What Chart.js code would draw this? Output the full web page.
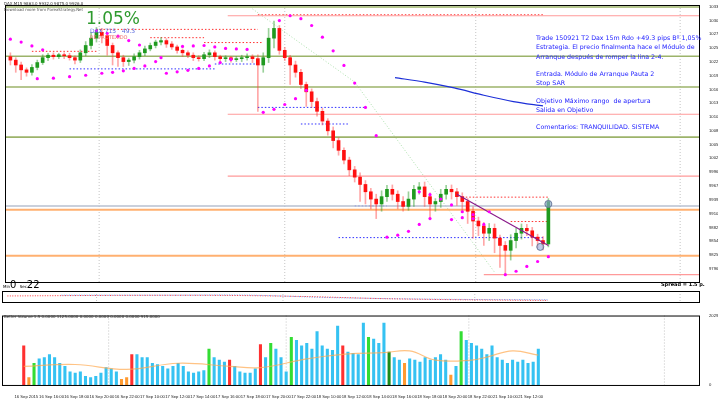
<!DOCTYPE html>
<html><head><meta charset="utf-8">
<script src="https://cdn.jsdelivr.net/npm/chart.js@4"></script>
<style>
body{margin:0;width:718px;height:400px;background:#fff;overflow:hidden;font-family:"DejaVu Sans",sans-serif;position:relative}
canvas{position:absolute;left:0}
.t{position:absolute;white-space:nowrap}
.note{color:#1a1aff;font-size:6.3px;left:536px;line-height:9.4px}
</style></head><body>
<canvas id="m" style="top:0px" width="718" height="290"></canvas>
<canvas id="ind" style="top:290px" width="718" height="21"></canvas>
<canvas id="vol" style="top:311px" width="718" height="89"></canvas>
<div class="t" style="left:4px;top:1px;font-size:4px;color:#333">DAX,M15 9863.0 9932.0 9875.0 9926.0</div>
<div class="t" style="left:4px;top:7px;font-size:4px;color:#555">Download more from ForexStrategy.Net</div>
<div class="t" style="left:86px;top:8px;font-size:17px;color:#2e9a2e">1.05%</div>
<div class="t" style="left:90px;top:27px;font-size:6px;color:#5a6adf">DAX 715 &nbsp; 49.3</div>
<div class="t" style="left:90px;top:34px;font-size:5px;color:#f07070">RE PROTEXIDO</div>
<div class="t note" style="top:33px">Trade 150921 T2 Dax 15m Rdo +49.3 pips Bº 1,05%<br>Estrategia. El precio finalmenta hace el Módulo de<br>Arranque después de romper la lina 2-4.</div>
<div class="t note" style="top:69px">Entrada. Módulo de Arranque Pauta 2<br>Stop SAR</div>
<div class="t note" style="top:96px">Objetivo Máximo rango &nbsp;de apertura<br>Salida en Objetivo</div>
<div class="t note" style="top:122px">Comentarios: TRANQUILIDAD. SISTEMA</div>
<div class="t" style="left:3px;top:279px;font-size:10px;color:#000"><span style="font-size:4px">Min</span>0 <span style="font-size:4px">Sec</span>22</div>
<div class="t" style="left:661px;top:281px;font-size:5px;font-weight:bold;color:#000">Spread = 1.5 p.</div>
<div class="t" style="left:4px;top:314px;font-size:4px;color:#333">Better Volume 1.5 0.0000 1125.0000 0.0000 0.0000 0.0000 0.0000 915.0000</div>
<script>
const closes=[10225,10215,10205,10200,10210,10220,10230,10235,10232,10236,10234,10230,10225,10240,10255,10270,10282,10275,10255,10240,10230,10222,10225,10232,10240,10248,10255,10262,10265,10258,10252,10245,10240,10235,10230,10228,10236,10240,10232,10228,10230,10226,10228,10230,10232,10228,10215,10230,10270,10290,10245,10230,10215,10200,10175,10160,10140,10120,10100,10080,10060,10040,10020,10000,9985,9970,9955,9940,9930,9945,9960,9950,9935,9925,9940,9960,9965,9945,9930,9935,9950,9960,9955,9945,9935,9915,9895,9885,9870,9880,9860,9845,9835,9855,9870,9880,9875,9862,9855,9848,9935];
const firstOpen=10232;
const wickUp=[8,5,6,4,6,5,6,4,5,3,4,5,4,6,8,12,10,8,6,5,4,5,4,6,5,6,5,4,6,4,5,4,3,4,5,4,5,6,4,3,4,3,4,5,6,4,8,10,20,15,6,6,5,8,6,5,6,7,6,5,8,6,5,6,7,9,8,7,10,12,8,9,7,10,15,8,9,10,8,6,10,8,9,7,8,6,9,8,7,10,9,6,8,12,10,9,8,7,6,8,6];
const wickDn=[10,15,20,8,6,5,4,6,5,4,6,5,8,5,6,7,8,15,20,25,18,10,8,6,5,6,4,5,6,7,5,6,8,5,6,5,4,6,7,5,6,5,4,6,5,8,95,15,10,20,8,6,40,10,8,30,12,10,8,9,15,10,8,12,10,35,25,20,30,15,10,12,15,10,8,15,10,20,30,15,12,10,15,18,20,25,35,20,25,15,30,45,50,20,15,12,10,18,15,12,6];
const sarTop=[[0,10268],[2,10262],[4,10254],[6,10246],[16,10285],[18,10280],[20,10274],[22,10265],[24,10256],[32,10253],[34,10254],[36,10255],[38,10252],[40,10249],[42,10248],[44,10247],[50,10306],[52,10316],[54,10310],[56,10296],[58,10272],[60,10244],[62,10214],[64,10178],[66,10128],[68,10070],[76,9955],[78,9949],[80,9940],[82,9928],[84,9914],[86,9900],[88,9888]];
const sarBot=[[5,10187],[8,10188],[11,10191],[14,10194],[17,10198],[19,10200],[21,10203],[23,10208],[25,10213],[27,10222],[28,10230],[29,10198],[31,10201],[33,10204],[35,10208],[37,10213],[39,10220],[41,10226],[47,10118],[49,10124],[51,10134],[53,10146],[55,10163],[70,9862],[72,9866],[74,9874],[76,9888],[78,9900],[82,9898],[84,9902],[86,9908],[89,9914],[92,9785],[94,9792],[96,9802],[98,9812],[100,9822]];
const blueCurve=[[71.5,10189],[77,10180],[82.5,10168],[88,10153],[93.5,10140],[99,10131]];
const trendLine=[[83,9950],[100,9845]];
const priceTicks=[10334.0,10306.0,10278.0,10250.0,10221.0,10193.0,10165.0,10137.0,10108.0,10080.0,10052.0,10024.0,9996.0,9967.5,9939.0,9910.0,9882.0,9854.0,9825.0,9796.0];
const levelsGreen=[10334,10233,10170,10067];
const levelsOrange=[9918,9824];
const levelsPink=[[40.4,10316],[40.4,10114],[40.4,9987],[88,9785]];
const dottedRed=[[46,99,10318],[16,46,10288],[26,36,10271],[36,47,10261],[4,16,10243],[84,100,9944],[93,100,9894]];
const dottedBlue=[[11,38,10207],[38,46,10217],[46,66,10128],[54,63,10094],[61,99,9861],[64,70,9926]];
const timeLabels=["16 Sep 2015","16 Sep 16:00","16 Sep 18:00","16 Sep 20:00","16 Sep 22:00","17 Sep 10:00","17 Sep 12:00","17 Sep 14:00","17 Sep 16:00","17 Sep 18:00","17 Sep 20:00","17 Sep 22:00","18 Sep 10:00","18 Sep 12:00","18 Sep 14:00","18 Sep 16:00","18 Sep 18:00","18 Sep 20:00","18 Sep 22:00","21 Sep 10:00","21 Sep 12:00"];
const volumes=[.63,.12,.35,.42,.44,.49,.44,.35,.3,.21,.19,.21,.14,.12,.14,.19,.28,.26,.21,.09,.12,.49,.49,.44,.44,.35,.33,.3,.26,.3,.35,.3,.21,.19,.21,.23,.58,.44,.4,.37,.4,.3,.21,.19,.19,.26,.65,.44,.67,.58,.44,.21,.77,.72,.63,.67,.58,.86,.63,.58,.56,.95,.63,.53,.51,.49,1.0,.77,.74,.67,1.0,.53,.44,.4,.35,.42,.4,.37,.44,.4,.44,.49,.4,.16,.3,.86,.72,.67,.63,.58,.49,.63,.44,.4,.35,.4,.37,.4,.35,.37,.58];
const volType="rogbbbbbbbbbbbbbbbboorbbbbbbbbbbbbbbgbbbrbbbbbrbgbbbgbbbbbbbbbrbbbbgbbbdbbobbbbbbbbobgbbbbbbbbbbbbbb";
const volMA=[[0,.3],[10,.33],[20,.25],[30,.35],[40,.3],[46,.28],[55,.42],[63,.5],[70,.52],[75,.55],[80,.4],[87,.4],[90,.45],[95,.55],[100,.48]];
const indRed=[[0,.55],[20,.6],[40,.6],[55,.5],[70,.3],[85,.2],[100,.15]];
const indBlue=[[10,.62],[30,.62],[45,.62],[60,.4],[80,.25],[100,.2]];

const XMAX=128,RW=19;
const pts=a=>a.map(p=>({x:p[0],y:p[1]}));
const ds=[];
const green='#1f9a1f',red='#ff1010';
let bodies=[],wicks=[],bc=[],wc=[];
closes.forEach((c,i)=>{const o=i?closes[i-1]:firstOpen;const hi=Math.max(o,c)+wickUp[i],lo=Math.min(o,c)-wickDn[i];
 const up=c>=o;bodies.push({x:i,y:[o,up?Math.max(c,o+1):Math.min(c,o-1)]});wicks.push({x:i,y:[lo,hi]});bc.push(up?green:red);wc.push(up?'rgba(31,154,31,.45)':'rgba(255,60,60,.45)');});
const hline=(x0,x1,y,col,w,dash)=>ds.push({type:'line',data:[{x:x0,y},{x:x1,y}],borderColor:col,borderWidth:w,borderDash:dash||[],pointRadius:0,order:5});
hline(-1,XMAX,9926,'#b8c0d0',1.5);
levelsGreen.forEach(y=>hline(-1,XMAX,y,'#9cb36a',1.6));
levelsOrange.forEach(y=>hline(-1,XMAX,y,'#ffb070',2));
levelsPink.forEach(p=>hline(p[0],XMAX,p[1],'#ff9a9a',1.2));
dottedRed.forEach(p=>hline(p[0],p[1],p[2],'#ff3030',1,[1.5,2]));
dottedBlue.forEach(p=>hline(p[0],p[1],p[2],'#3030ff',1,[1.5,2]));
ds.push({type:'line',data:pts([[45,10330],[64,10180],[90,9790]]),borderColor:'rgba(80,190,80,.6)',borderWidth:.8,borderDash:[1,2],pointRadius:0,order:5});
ds.push({type:'bar',data:wicks,backgroundColor:wc,barThickness:1,grouped:false,order:3});
ds.push({type:'bar',data:bodies,backgroundColor:bc,barThickness:3,grouped:false,order:2});
ds.push({type:'scatter',data:pts(sarTop.concat(sarBot)),backgroundColor:'#ff00ff',pointRadius:1.6,borderWidth:0,order:1});
ds.push({type:'line',data:pts(blueCurve),borderColor:'#1c2fd8',borderWidth:1.2,pointRadius:0,tension:.3,order:1});
ds.push({type:'line',data:pts(trendLine),borderColor:'#8a1a8a',borderWidth:1.2,pointRadius:0,order:1});
ds.push({type:'scatter',data:[{x:100,y:9930},{x:98.5,y:9842}],backgroundColor:'rgba(150,170,220,.6)',borderColor:'#6a7a9a',pointRadius:3.5,borderWidth:1,order:0});
const vgrid=[16.5,51,86.5,124.5];
const gridPlugin={id:'g',beforeDatasetsDraw(ch){const c=ch.ctx,a=ch.chartArea,x=ch.scales.x;c.save();c.strokeStyle='#aaa';c.setLineDash([1,2]);c.lineWidth=.7;vgrid.forEach(v=>{const px=x.getPixelForValue(v);c.beginPath();c.moveTo(px,a.top);c.lineTo(px,a.bottom);c.stroke();});c.restore();},
 afterDraw(ch){const c=ch.ctx,a=ch.chartArea;c.save();c.strokeStyle='#000';c.lineWidth=1;c.strokeRect(a.left+.5,a.top+.5,a.right-a.left,a.bottom-a.top);c.restore();}};
const xs=(show)=>({type:'linear',min:-1,max:XMAX,grid:{display:false},border:{display:false},
 afterBuildTicks(s){s.ticks=show?timeLabels.map((t,i)=>({value:i*4.9+0.5})):[];},
 ticks:{display:show,autoSkip:false,maxRotation:0,font:{size:4.2},color:'#222',padding:1,callback:(v,i)=>timeLabels[i]}});
const ys=(min,max,ticks,fmt)=>({type:'linear',position:'right',min,max,grid:{display:false},border:{display:false},
 afterFit(s){s.width=RW;},afterBuildTicks(s){s.ticks=ticks.map(v=>({value:v}));},
 ticks:{font:{size:4.2},color:'#222',padding:2,callback:fmt}});
const common={responsive:false,animation:false,plugins:{legend:{display:false},tooltip:{enabled:false}},layout:{padding:{left:2,top:2,right:0,bottom:0}}};
new Chart('m',{data:{datasets:ds},plugins:[gridPlugin],options:{...common,scales:{x:xs(false),y:ys(9770,10338,priceTicks,v=>v.toFixed(1))}}});
new Chart('ind',{data:{datasets:[
 {type:'line',data:pts(indRed),borderColor:'#ff3030',borderDash:[1,1.5],borderWidth:1,pointRadius:0,tension:.3},
 {type:'line',data:pts(indBlue),borderColor:'#60a0ff',borderDash:[1,1.5],borderWidth:1,pointRadius:0,tension:.3}]},
 plugins:[gridPlugin],options:{...common,layout:{padding:{left:2,top:1,right:0,bottom:1}},scales:{x:xs(false),y:ys(0,1,[],v=>'')}}});
const vc={b:'#35c2f2',r:'#ff3030',g:'#33dd33',o:'#ff9a30',d:'#1a8a1a'};
new Chart('vol',{data:{datasets:[
 {type:'line',data:pts(volMA),borderColor:'rgba(255,170,80,.7)',borderWidth:1.2,pointRadius:0,tension:.4,order:0},
 {type:'bar',data:volumes.map((v,i)=>({x:i,y:v})),backgroundColor:volumes.map((v,i)=>vc[volType[i]]||vc.b),barThickness:2.4,order:1}]},
 plugins:[gridPlugin],options:{...common,layout:{padding:{left:2,top:1,right:0,bottom:0}},scales:{x:xs(true),y:ys(0,1.12,[1.12,0],v=>v?'2029.65':'0')}}});
</script></body></html>
